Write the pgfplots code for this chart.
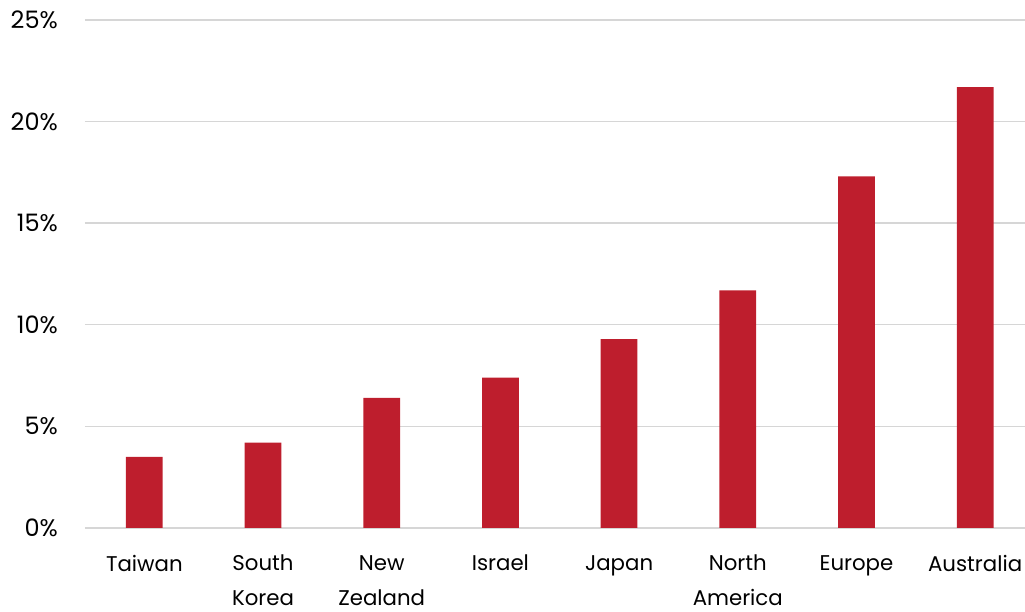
\documentclass[border=0pt]{standalone}
\usepackage{pgfplots}
\pgfplotsset{compat=1.18}
\usepackage{fontspec}
\setmainfont{Poppins}
\definecolor{barred}{HTML}{BE1E2D}
\definecolor{gridgray}{HTML}{D6D6D6}
\begin{document}
\begin{tikzpicture}
\begin{axis}[
  name=ax,
  scale only axis,
  width=940pt, height=508pt,
  xmin=-0.5, xmax=7.42,
  ymin=0, ymax=25,
  axis line style={draw=none},
  ytick={0,5,10,15,20,25},
  xtick={0,1,2,3,4,5,6,7},
  xticklabels={Taiwan,{South\\Korea},{New\\Zealand},Israel,Japan,{North\\America},Europe,Australia},
  major tick length=0pt,
  ymajorgrids,
  grid style={gridgray, line width=1.4pt},
  /pgf/number format/assume math mode=true,
  yticklabel={\pgfmathprintnumber{\tick}\%},
  yticklabel style={anchor=east, inner sep=0pt, xshift=-27pt, font=\fontsize{24}{28}\selectfont},
  xticklabel style={anchor=north, align=center, inner sep=0pt, yshift=-27pt, font=\fontsize{21.3}{35}\selectfont},
  clip=false,
]
\addplot[ybar, bar width=0.31, fill=barred, draw=none] coordinates {
(0,3.5) (1,4.2) (2,6.4) (3,7.4) (4,9.3) (5,11.7) (6,17.3) (7,21.7)
};
\end{axis}
\pgfresetboundingbox
\path (ax.south west) ++(-85pt,-84pt) rectangle ++(1025pt,612pt);
\end{tikzpicture}
\end{document}
